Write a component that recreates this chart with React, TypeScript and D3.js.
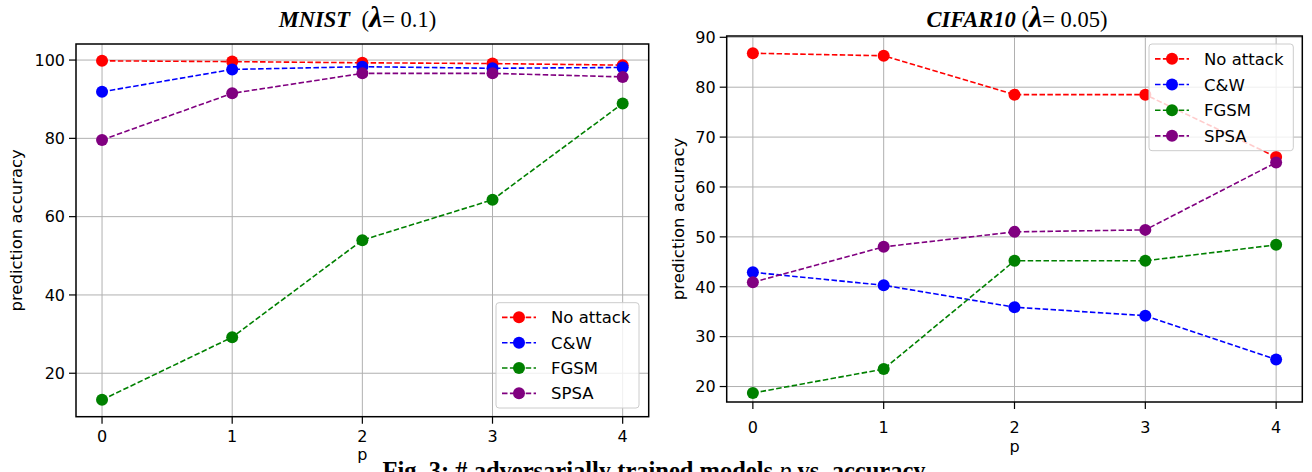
import React from "react";
import * as d3 from "d3";

const pValues = [0, 1, 2, 3, 4];
const seriesNames = ["No attack", "C&W", "FGSM", "SPSA"];
const seriesColors = ["#ff0000", "#0000ff", "#008000", "#800080"];

const mnistNoAttack = [99.8, 99.6, 99.3, 99.1, 98.7];
const mnistCW = [91.9, 97.6, 98.3, 97.9, 98.1];
const mnistFGSM = [13.2, 29.2, 54.0, 64.3, 88.9];
const mnistSPSA = [79.6, 91.5, 96.6, 96.6, 95.7];

const cifarNoAttack = [86.8, 86.3, 78.5, 78.5, 66.0];
const cifarCW = [42.9, 40.3, 35.9, 34.2, 25.4];
const cifarFGSM = [18.7, 23.5, 45.2, 45.2, 48.4];
const cifarSPSA = [40.9, 48.0, 51.0, 51.4, 64.9];

const mnistYTicks = [20, 40, 60, 80, 100];
const cifarYTicks = [20, 30, 40, 50, 60, 70, 80, 90];

const SANS = "DejaVu Sans, sans-serif";
const SERIF = "Liberation Serif, serif";

type PanelProps = {
  x0: number; x1: number; y0: number; y1: number;
  yDomain: [number, number];
  yTicks: number[];
  series: number[][];
  legend: { x: number; y: number; w: number; h: number };
  xLabelBase: number; pBase: number; yLabelX: number;
};

function Panel(props: PanelProps) {
  const { x0, x1, y0, y1, yDomain, yTicks, series, legend } = props;
  const x = d3.scaleLinear().domain([-0.2, 4.2]).range([x0, x1]);
  const y = d3.scaleLinear().domain(yDomain).range([y1, y0]);
  const line = d3.line<number>().x((_, i) => x(pValues[i])).y((d) => y(d));
  const grid = "#b0b0b0";
  const rowH = (legend.h - 4) / 4;
  return (
    <g>
      {pValues.map((p) => (
        <line key={"gx" + p} x1={x(p)} x2={x(p)} y1={y0} y2={y1} stroke={grid} strokeWidth={1} />
      ))}
      {yTicks.map((t) => (
        <line key={"gy" + t} x1={x0} x2={x1} y1={y(t)} y2={y(t)} stroke={grid} strokeWidth={1} />
      ))}
      {series.map((s, k) => (
        <g key={"s" + k}>
          <path d={line(s) || ""} fill="none" stroke={seriesColors[k]} strokeWidth={1.6} strokeDasharray="5.5,2.4" />
          {s.map((v, i) => (
            <circle key={i} cx={x(pValues[i])} cy={y(v)} r={6} fill={seriesColors[k]} />
          ))}
        </g>
      ))}
      <rect x={x0} y={y0} width={x1 - x0} height={y1 - y0} fill="none" stroke="#000" strokeWidth={1.5} />
      {pValues.map((p) => (
        <g key={"xt" + p}>
          <line x1={x(p)} x2={x(p)} y1={y1} y2={y1 + 7} stroke="#000" strokeWidth={1.2} />
          <text x={x(p)} y={props.xLabelBase} textAnchor="middle" fontFamily={SANS} fontSize={16}>{p}</text>
        </g>
      ))}
      {yTicks.map((t) => (
        <g key={"yt" + t}>
          <line x1={x0 - 7} x2={x0} y1={y(t)} y2={y(t)} stroke="#000" strokeWidth={1.2} />
          <text x={x0 - 11} y={y(t) + 5.8} textAnchor="end" fontFamily={SANS} fontSize={16}>{t}</text>
        </g>
      ))}
      <text x={(x0 + x1) / 2} y={props.pBase} textAnchor="middle" fontFamily={SANS} fontSize={16}>p</text>
      <text transform={`translate(${props.yLabelX},${(y0 + y1) / 2}) rotate(-90)`} textAnchor="middle" fontFamily={SANS} fontSize={16.5}>prediction accuracy</text>
      <rect x={legend.x} y={legend.y} width={legend.w} height={legend.h} rx={3} fill="#fff" fillOpacity={0.8} stroke="#cccccc" strokeWidth={1} />
      {seriesNames.map((n, k) => {
        const cy = legend.y + 2 + rowH * (k + 0.5);
        return (
          <g key={"lg" + k}>
            <line x1={legend.x + 6} x2={legend.x + 40} y1={cy} y2={cy} stroke={seriesColors[k]} strokeWidth={1.6} strokeDasharray="5.5,2.4" />
            <circle cx={legend.x + 23} cy={cy} r={6} fill={seriesColors[k]} />
            <text x={legend.x + 55} y={cy + 6} fontFamily={SANS} fontSize={16.5}>{n}</text>
          </g>
        );
      })}
    </g>
  );
}

export default function App() {
  return (
    <svg width={1312} height={472} style={{ position: "absolute", left: 0, top: 0, background: "#fff" }}>
      <rect width={1312} height={472} fill="#fff" />
      <text x={357.5} y={27} textAnchor="middle" fontFamily={SERIF} fontSize={22.5}>
        <tspan fontWeight="bold" fontStyle="italic">MNIST</tspan>
        <tspan>{"\u00a0\u00a0("}</tspan>
        <tspan fontWeight="bold" fontStyle="italic" fontSize={30}>λ</tspan>
        <tspan>= 0.1)</tspan>
      </text>
      <text x={1017} y={27} textAnchor="middle" fontFamily={SERIF} fontSize={22.5}>
        <tspan fontWeight="bold" fontStyle="italic">CIFAR10</tspan>
        <tspan>{"\u00a0("}</tspan>
        <tspan fontWeight="bold" fontStyle="italic" fontSize={30}>λ</tspan>
        <tspan>= 0.05)</tspan>
      </text>
      <Panel
        x0={76} x1={648.7} y0={44} y1={416.7}
        yDomain={[8.9, 104.1]}
        yTicks={mnistYTicks}
        series={[mnistNoAttack, mnistCW, mnistFGSM, mnistSPSA]}
        legend={{ x: 496, y: 302.7, w: 143, h: 105.3 }}
        xLabelBase={442} pBase={460} yLabelX={22}
      />
      <Panel
        x0={726.7} x1={1302.3} y0={36} y1={402}
        yDomain={[16.9, 90.26]}
        yTicks={cifarYTicks}
        series={[cifarNoAttack, cifarCW, cifarFGSM, cifarSPSA]}
        legend={{ x: 1149, y: 44, w: 144.3, h: 106.7 }}
        xLabelBase={433} pBase={452} yLabelX={684}
      />
      <text x={654} y={479} textAnchor="middle" fontFamily={SERIF} fontSize={24.5} fontWeight="bold">
        <tspan>Fig. 3: # adversarially trained models </tspan>
        <tspan fontStyle="italic" fontWeight="normal">p</tspan>
        <tspan> vs. accuracy</tspan>
      </text>
    </svg>
  );
}
